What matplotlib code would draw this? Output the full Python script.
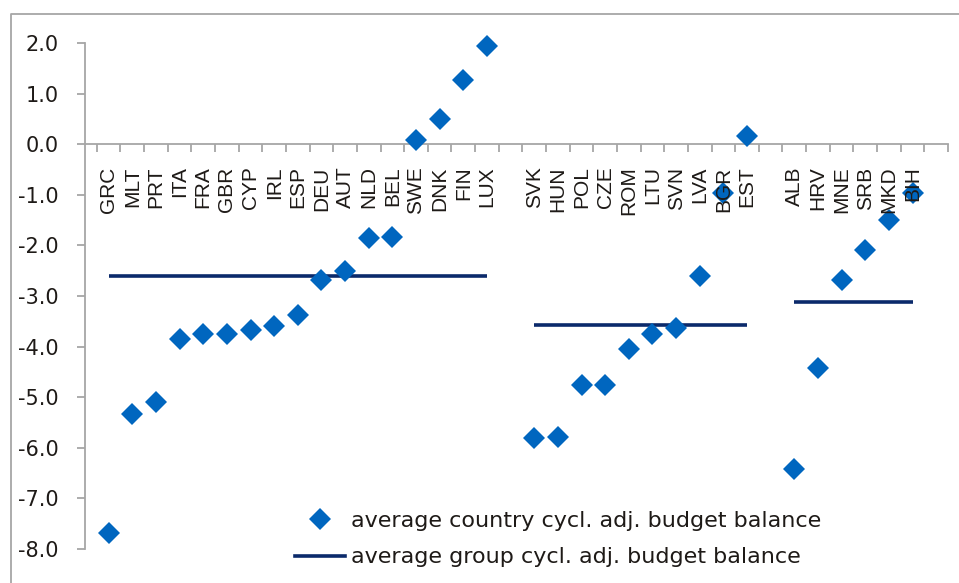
import numpy as np
import matplotlib.pyplot as plt
from matplotlib.lines import Line2D

plt.rcParams['font.family'] = 'DejaVu Sans'
plt.rcParams['axes.unicode_minus'] = False

# country groups (ordered as on the chart)
names_old = ["GRC", "MLT", "PRT", "ITA", "FRA", "GBR", "CYP", "IRL", "ESP",
             "DEU", "AUT", "NLD", "BEL", "SWE", "DNK", "FIN", "LUX"]
vals_old = [-7.68, -5.34, -5.10, -3.84, -3.76, -3.76, -3.68, -3.60, -3.37,
            -2.69, -2.50, -1.86, -1.83, 0.08, 0.49, 1.26, 1.94]

names_new = ["SVK", "HUN", "POL", "CZE", "ROM", "LTU", "SVN", "LVA", "BGR", "EST"]
vals_new = [-5.80, -5.78, -4.76, -4.76, -4.04, -3.76, -3.64, -2.61, -0.97, 0.16]

names_cand = ["ALB", "HRV", "MNE", "SRB", "MKD", "BIH"]
vals_cand = [-6.41, -4.43, -2.69, -2.09, -1.50, -0.96]

group_avg = [-2.60, -3.58, -3.11]

blue = '#0066BF'
navy = '#0B2A6B'
grey = '#A6A6A6'
txt = '#1E1A17'

fig = plt.figure(figsize=(9.59, 5.83), dpi=100)
ax = fig.add_axes([85 / 959, 1 - 549 / 583, 863 / 959, 506 / 583])

pos = 0
groups = [(names_old, vals_old), (names_new, vals_new), (names_cand, vals_cand)]
for (names, vals), avg in zip(groups, group_avg):
    x = np.arange(pos, pos + len(names))
    ax.plot(x, vals, 'D', ms=11, color=blue, mew=0, zorder=3, clip_on=False)
    ax.plot([x[0], x[-1]], [avg, avg], color=navy, lw=2.6, zorder=2,
            solid_capstyle='butt')
    for xi, n in zip(x, names):
        ax.annotate(n, (xi, 0), xytext=(0, -16), textcoords='offset points',
                    rotation=90, ha='center', va='top', fontsize=15,
                    family='Liberation Sans', color=txt, zorder=4)
    pos += len(names) + 1

ax.set_xlim(-1, 35.5)
ax.set_ylim(-8, 2)

# axes: left spine + x axis crossing at zero
ax.spines['top'].set_visible(False)
ax.spines['right'].set_visible(False)
ax.spines['bottom'].set_position(('data', 0))
for s in ['left', 'bottom']:
    ax.spines[s].set_color(grey)
    ax.spines[s].set_linewidth(1.3)

ax.set_xticks(np.arange(-0.5, 36, 1))
ax.set_xticklabels([])
ax.tick_params(axis='x', direction='out', length=5.8, width=1.3, color=grey)
ax.set_yticks(np.arange(-8, 2.1, 1))
ax.set_yticklabels(["%.1f" % v for v in np.arange(-8, 2.1, 1)])
ax.tick_params(axis='y', direction='out', length=5.8, width=1.3, color=grey,
               labelsize=15, labelcolor=txt, pad=13)

# legend
handles = [Line2D([], [], ls='none', marker='D', ms=11, mew=0, color=blue),
           Line2D([], [], color=navy, lw=2.6)]
labels = ["average country cycl. adj. budget balance",
          "average group cycl. adj. budget balance"]
fig.legend(handles, labels, loc='center left',
           bbox_to_anchor=(295 / 959, 1 - 539 / 583), frameon=False,
           fontsize=16, handlelength=2.25, handletextpad=0.28,
           labelspacing=0.75, borderpad=0, borderaxespad=0, labelcolor=txt)

# outer chart frame
fig.add_artist(Line2D([11 / 959, 11 / 959, 1.0], [0, 1 - 14 / 583, 1 - 14 / 583],
                      transform=fig.transFigure, color=grey, lw=1.3))

fig.savefig('out.png', dpi=100)
